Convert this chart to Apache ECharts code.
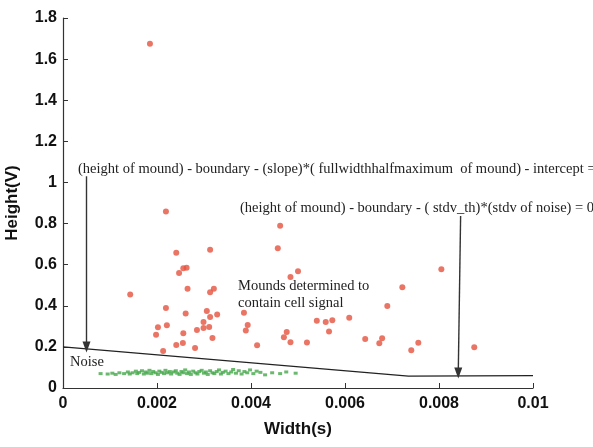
<!DOCTYPE html>
<html>
<head>
<meta charset="utf-8">
<script src="https://cdn.jsdelivr.net/npm/echarts@6/dist/echarts.min.js"></script>
<style>
  html, body { margin: 0; padding: 0; background: #fff; }
  #chart { width: 593px; height: 447px; }
</style>
</head>
<body>
<div id="chart"></div>
<script>
// axis ticks
const xTickLabels = ['0', '0.002', '0.004', '0.006', '0.008', '0.01'];
const yTickLabels = ['0', '0.2', '0.4', '0.6', '0.8', '1', '1.2', '1.4', '1.6', '1.8'];

// mounds containing cell signal (width s, height V)
const signalWidth = [
  0.00185, 0.00219, 0.00241, 0.00256, 0.00263, 0.00247, 0.00265, 0.00313, 0.00321, 0.00313,
  0.00143, 0.00219, 0.00261, 0.00306, 0.00328, 0.00313, 0.00299, 0.00202, 0.00221, 0.00299,
  0.00311, 0.00285, 0.00198, 0.00256, 0.00318, 0.00255, 0.00241, 0.00281, 0.00213, 0.00385,
  0.00393, 0.00389, 0.00413, 0.00462, 0.00457, 0.00500, 0.00484, 0.00476, 0.00470, 0.00484,
  0.00519, 0.00540, 0.00559, 0.00573, 0.00566, 0.00609, 0.00643, 0.00679, 0.00673, 0.00690,
  0.00722, 0.00741, 0.00756, 0.00805, 0.00875
];
const signalHeight = [
  1.675, 0.859, 0.658, 0.582, 0.585, 0.560, 0.483, 0.673, 0.483, 0.466,
  0.455, 0.389, 0.362, 0.375, 0.357, 0.346, 0.321, 0.295, 0.305, 0.292,
  0.297, 0.282, 0.259, 0.266, 0.243, 0.219, 0.209, 0.195, 0.180, 0.366,
  0.307, 0.280, 0.208, 0.789, 0.680, 0.568, 0.540, 0.273, 0.247, 0.222,
  0.221, 0.327, 0.321, 0.329, 0.275, 0.342, 0.238, 0.242, 0.218, 0.399,
  0.490, 0.184, 0.220, 0.578, 0.198
];

// noise mounds
const noiseWidth = [
  0.00080, 0.00095, 0.00105, 0.00112, 0.00120, 0.00130, 0.00138, 0.00142, 0.00148, 0.00155,
  0.00158, 0.00162, 0.00168, 0.00172, 0.00176, 0.00180, 0.00184, 0.00188, 0.00192, 0.00197,
  0.00202, 0.00205, 0.00210, 0.00215, 0.00218, 0.00222, 0.00227, 0.00230, 0.00235, 0.00240,
  0.00243, 0.00248, 0.00252, 0.00256, 0.00260, 0.00264, 0.00268, 0.00272, 0.00277, 0.00282,
  0.00286, 0.00290, 0.00295, 0.00300, 0.00304, 0.00308, 0.00313, 0.00318, 0.00322, 0.00327,
  0.00332, 0.00336, 0.00340, 0.00346, 0.00352, 0.00358, 0.00362, 0.00368, 0.00374, 0.00380,
  0.00386, 0.00392, 0.00398, 0.00405, 0.00412, 0.00420, 0.00430, 0.00445, 0.00462, 0.00475,
  0.00495
];
const noiseHeight = [
  0.070, 0.068, 0.072, 0.066, 0.074, 0.070, 0.078, 0.068, 0.074, 0.082,
  0.070, 0.076, 0.084, 0.068, 0.078, 0.072, 0.086, 0.070, 0.080, 0.074,
  0.066, 0.082, 0.076, 0.070, 0.086, 0.074, 0.080, 0.068, 0.078, 0.084,
  0.072, 0.066, 0.080, 0.074, 0.088, 0.070, 0.078, 0.066, 0.082, 0.074,
  0.068, 0.080, 0.086, 0.072, 0.078, 0.066, 0.084, 0.074, 0.070, 0.080,
  0.088, 0.068, 0.076, 0.082, 0.070, 0.078, 0.090, 0.072, 0.084, 0.068,
  0.080, 0.074, 0.088, 0.070, 0.082, 0.076, 0.064, 0.074, 0.070, 0.078,
  0.072
];

// decision boundary
const boundaryX = [0, 0.00735, 0.01];
const boundaryY = [0.2, 0.058, 0.06];

// annotation arrows [x1, y1, x2, y2]
const arrowLeft = [0.0005, 1.03, 0.0005, 0.2];
const arrowRight = [0.00846, 0.837, 0.00841, 0.073];

const serif = '"Liberation Serif", "DejaVu Serif", serif';
const sans = '"Liberation Sans", Arial, sans-serif';

const chart = echarts.init(document.getElementById('chart'));

const option = {
  animation: false,
  backgroundColor: '#fff',
  grid: { left: 63, right: 60, top: 18, bottom: 59, outerBoundsMode: 'none', containLabel: false },
  xAxis: {
    type: 'value',
    min: 0,
    max: 0.01,
    interval: 0.002,
    name: 'Width(s)',
    nameLocation: 'middle',
    nameGap: 33,
    nameTextStyle: { fontFamily: sans, fontWeight: 'bold', fontSize: 17, color: '#111' },
    axisLine: { show: true, lineStyle: { color: '#333', width: 1.2 } },
    axisTick: { show: true, inside: true, length: 5, lineStyle: { color: '#333' } },
    axisLabel: {
      margin: 8,
      fontFamily: sans, fontWeight: 'bold', fontSize: 16, color: '#111',
      formatter: v => xTickLabels[Math.round(v / 0.002)]
    },
    splitLine: { show: false }
  },
  yAxis: {
    type: 'value',
    min: 0,
    max: 1.8,
    interval: 0.2,
    name: 'Height(V)',
    nameLocation: 'middle',
    nameGap: 42,
    nameTextStyle: { fontFamily: sans, fontWeight: 'bold', fontSize: 17, color: '#111' },
    axisLine: { show: true, lineStyle: { color: '#333', width: 1.2 } },
    axisTick: { show: true, inside: true, length: 5, lineStyle: { color: '#333' } },
    axisLabel: {
      margin: 6,
      fontFamily: sans, fontWeight: 'bold', fontSize: 16, color: '#111',
      formatter: v => yTickLabels[Math.round(v / 0.2)]
    },
    splitLine: { show: false }
  },
  series: [
    {
      name: 'boundary',
      type: 'line',
      data: boundaryX.map((x, i) => [x, boundaryY[i]]),
      symbol: 'none',
      lineStyle: { color: '#222', width: 1.2 },
      z: 3,
      markLine: {
        silent: true,
        symbol: ['none', 'triangle'],
        symbolSize: [8, 11],
        symbolRotate: 180,
        lineStyle: { color: '#333', width: 1.4, type: 'solid' },
        label: { show: false },
        data: [
          [{ coord: [arrowLeft[0], arrowLeft[1]] }, { coord: [arrowLeft[2], arrowLeft[3]] }],
          [{ coord: [arrowRight[0], arrowRight[1]] }, { coord: [arrowRight[2], arrowRight[3]] }]
        ]
      }
    },
    {
      name: 'noise',
      type: 'scatter',
      data: noiseWidth.map((x, i) => [x, noiseHeight[i]]),
      symbol: 'rect',
      symbolSize: [4, 3],
      itemStyle: { color: '#45a84a' },
      z: 4
    },
    {
      name: 'signal',
      type: 'scatter',
      data: signalWidth.map((x, i) => [x, signalHeight[i]]),
      symbol: 'circle',
      symbolSize: 6,
      itemStyle: { color: '#e5533f' },
      z: 5
    }
  ],
  graphic: [
    {
      type: 'text', left: 78, top: 162,
      style: {
        text: '(height of mound) - boundary - (slope)*( fullwidthhalfmaximum  of mound) - intercept = 0',
        font: '14.5px ' + serif, fill: '#222'
      }
    },
    {
      type: 'text', left: 240, top: 201,
      style: {
        text: '(height of mound) - boundary - ( stdv_th)*(stdv of noise) = 0',
        font: '14.5px ' + serif, fill: '#222'
      }
    },
    {
      type: 'text', left: 238, top: 279,
      style: { text: 'Mounds determined to', font: '14.5px ' + serif, fill: '#222' }
    },
    {
      type: 'text', left: 238, top: 296,
      style: { text: 'contain cell signal', font: '14.5px ' + serif, fill: '#222' }
    },
    {
      type: 'text', left: 70, top: 355,
      style: { text: 'Noise', font: '14.5px ' + serif, fill: '#222' }
    }
  ]
};

chart.setOption(option);
</script>
</body>
</html>
